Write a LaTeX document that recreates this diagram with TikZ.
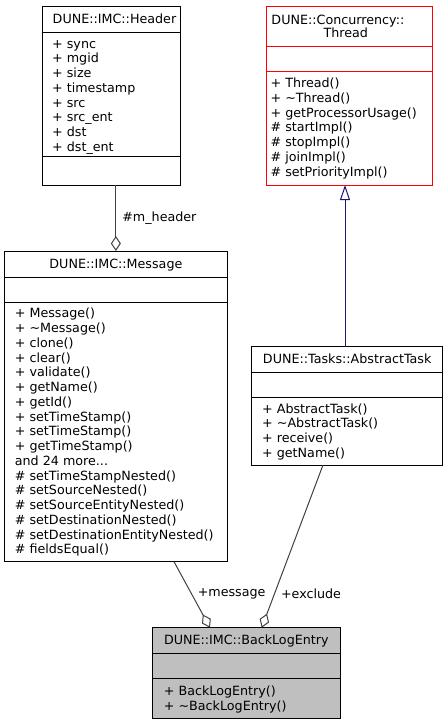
\documentclass[tikz,border=0pt]{standalone}
\usepackage{fontspec}
\setmainfont{DejaVu Sans}
\usepackage{tikz}
\usetikzlibrary{positioning,arrows.meta,calc}
\definecolor{edgegray}{RGB}{64,64,64}
\definecolor{inheritblue}{RGB}{25,25,112}
\definecolor{focusgray}{RGB}{191,191,191}
\definecolor{threadred}{RGB}{255,0,0}
\tikzset{
  class-box/.style={draw=black, line width=1pt, anchor=north west, inner sep=0pt,
    outer sep=0pt},
  class-title/.style={anchor=base, inner sep=0pt, font={\fontsize{12.7}{14.75}\selectfont}},
  member-list/.style={anchor=north west, inner sep=0pt, align=left,
    font={\fontsize{12.7}{14.75}\selectfont}},
  edge-label/.style={inner sep=1pt, font={\fontsize{12.7}{14.75}\selectfont}},
  aggregation-line/.style={{Diamond[open, length=15pt, width=10pt]}-, line width=1pt, draw=edgegray},
  inherit-line/.style={-{Triangle[open, length=15pt, width=10pt]}, line width=1pt, draw=inheritblue}
}

\begin{document}
\begin{tikzpicture}[x=1pt, y=-1pt]
\useasboundingbox (0,0) rectangle (447,725);

% Header class
\node[class-box, minimum width=137.3pt, minimum height=178.7pt] (header) at (42.7,6.3) {};
\draw[line width=1pt] ($(header.north west)+(0,26.4)$) -- ++(137.3,0);
\draw[line width=1pt] ($(header.north west)+(0,149.7)$) -- ++(137.3,0);
\node[class-title] (header-title) at (114.5,24) {DUNE::IMC::Header};
\node[member-list] (header-attrs) at (52,37.6)
  {\strut + sync\\+ mgid\\+ size\\+ timestamp\\+ src\\+ src\_ent\\+ dst\\+ dst\_ent};

% Thread class
\node[class-box, draw=threadred, minimum width=166pt, minimum height=178.5pt] (thread) at (266.7,6.5) {};
\draw[line width=1pt, threadred] ($(thread.north west)+(0,40.2)$) -- ++(166,0);
\draw[line width=1pt, threadred] ($(thread.north west)+(0,65.2)$) -- ++(166,0);
\node[class-title] (thread-title-a) at (337.9,24.4) {DUNE::Concurrency::};
\node[class-title] (thread-title-b) at (345.7,37.9) {Thread};
\node[member-list] (thread-ops) at (270.4,77)
  {\strut + Thread()\\+ \textasciitilde Thread()\\+ getProcessorUsage()\\\# startImpl()\\\# stopImpl()\\\# joinImpl()\\\# setPriorityImpl()};

% Message class
\node[class-box, minimum width=223.7pt, minimum height=310.7pt] (message) at (4,251) {};
\draw[line width=1pt] ($(message.north west)+(0,26)$) -- ++(223.7,0);
\draw[line width=1pt] ($(message.north west)+(0,51)$) -- ++(223.7,0);
\node[class-title] (message-title) at (115.9,268.1) {DUNE::IMC::Message};
\node[member-list] (message-ops) at (14.7,307.3)
  {\strut + Message()\\+ \textasciitilde Message()\\+ clone()\\+ clear()\\+ validate()\\+ getName()\\+ getId()\\+ setTimeStamp()\\+ setTimeStamp()\\+ getTimeStamp()\\and 24 more...\\\# setTimeStampNested()\\\# setSourceNested()\\\# setSourceEntityNested()\\\# setDestinationNested()\\\# setDestinationEntityNested()\\\# fieldsEqual()};

% AbstractTask class
\node[class-box, minimum width=191pt, minimum height=118.3pt] (abstracttask) at (251.7,346.7) {};
\draw[line width=1pt] ($(abstracttask.north west)+(0,25.6)$) -- ++(191,0);
\draw[line width=1pt] ($(abstracttask.north west)+(0,50.6)$) -- ++(191,0);
\node[class-title] (abstracttask-title) at (347.2,363.6) {DUNE::Tasks::AbstractTask};
\node[member-list] (abstracttask-ops) at (262,402.6)
  {\strut + AbstractTask()\\+ \textasciitilde AbstractTask()\\+ receive()\\+ getName()};

% BackLogEntry class
\node[class-box, fill=focusgray, minimum width=187.3pt, minimum height=90.6pt] (entry) at (152.7,627.7) {};
\draw[line width=1pt] ($(entry.north west)+(0,25.6)$) -- ++(187.3,0);
\draw[line width=1pt] ($(entry.north west)+(0,50.6)$) -- ++(187.3,0);
\node[class-title] (entry-title) at (246.3,644.1) {DUNE::IMC::BackLogEntry};
\node[member-list] (entry-ops) at (163.7,685)
  {\strut + BackLogEntry()\\+ \textasciitilde BackLogEntry()};

% Connector end points
\coordinate (task-top) at ($(abstracttask.north west)+(93.3,0)$);
\coordinate (message-foot) at ($(message.south west)+(170,0)$);
\coordinate (task-foot) at ($(abstracttask.south west)+(71.3,0)$);
\coordinate (entry-left) at ($(entry.north west)+(57.3,0)$);
\coordinate (entry-right) at ($(entry.north west)+(109,0)$);

% Connectors
\draw[inherit-line] (task-top) -- (task-top |- thread.south);
\draw[aggregation-line] (message.north) -- (message.north |- header.south)
  node[midway, right=5pt, edge-label] {\#m\_header};
\draw[aggregation-line] (entry-left) -- (message-foot)
  node[pos=0.52, right=5pt, edge-label] {+message};
\draw[aggregation-line] (entry-right) -- (task-foot)
  node[pos=0.21, right=5pt, edge-label] {+exclude};
\end{tikzpicture}
\end{document}
